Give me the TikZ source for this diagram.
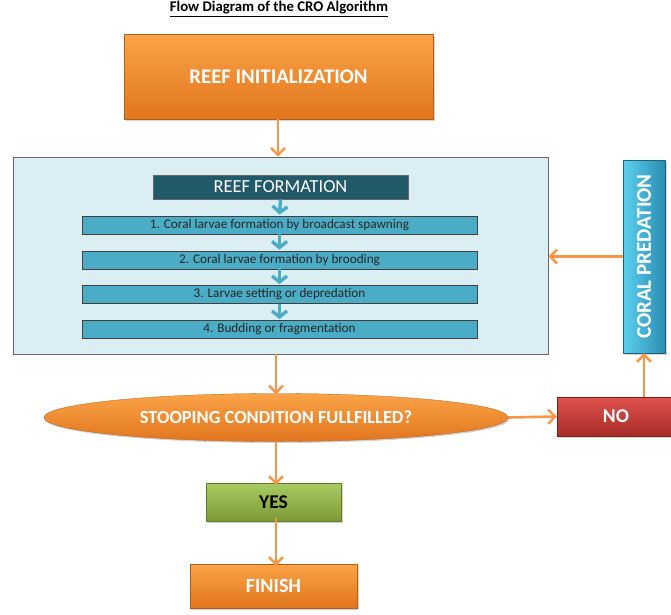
\documentclass[tikz,border=0pt]{standalone}
\usepackage{fontspec}
\setmainfont{Carlito}
\usetikzlibrary{arrows.meta,shadows,shapes.geometric}
\definecolor{arrorange}{HTML}{F79646}
\definecolor{orangetop}{HTML}{FBA348}
\definecolor{orangebot}{HTML}{E1761D}
\definecolor{contfill}{HTML}{DBEEF4}
\definecolor{stepfill}{HTML}{4BACC6}
\definecolor{rfill}{HTML}{215968}
\definecolor{redtop}{HTML}{E0524D}
\definecolor{redbot}{HTML}{A82B28}
\definecolor{greentop}{HTML}{A9CB62}
\definecolor{greenbot}{HTML}{7B9A36}
\definecolor{cyantop}{HTML}{5CD0F0}
\definecolor{cyanbot}{HTML}{2A8DB0}
\tikzset{
  oarrow/.style={draw=arrorange,line width=2.6pt,-{Straight Barb[length=7pt,width=14pt,line width=2.4pt]}},
  barrow/.style={draw=stepfill,line width=3.4pt,-{Straight Barb[length=6pt,width=15pt,line width=3.4pt]}},
  shadowed/.style={drop shadow={opacity=0.35,shadow xshift=1.5pt,shadow yshift=-1.5pt}},
  orangebox/.style={shadowed,top color=orangetop,bottom color=orangebot,draw=orangebot!80!black,line width=0.3pt,inner sep=0pt,text=white,font=\bfseries},
  stepbox/.style={fill=stepfill,draw=black!75,line width=0.8pt,minimum width=395pt,minimum height=18pt,inner sep=0pt,font=\fontsize{13.2}{15}\selectfont,text=black!85},
}
\begin{document}
\begin{tikzpicture}[x=1pt,y=-1pt]
\useasboundingbox (0,0) rectangle (671,614);
% title
\node (title) at (279,9) {\fontsize{14.8}{16}\selectfont\bfseries\underline{Flow Diagram of the CRO Algorithm}};
% reef initialization
\node[orangebox,minimum width=309pt,minimum height=85pt,font=\fontsize{20.8}{23}\selectfont\bfseries] (init) at (278.5,76.5) {REEF INITIALIZATION};
% container
\node[draw=black!60,fill=contfill,line width=0.8pt,minimum width=535pt,minimum height=197pt,inner sep=0pt] (cont) at (280.5,255.5) {};
\node[fill=rfill,draw=black!60,line width=0.8pt,minimum width=255pt,minimum height=24pt,inner sep=0pt,text=white,font=\fontsize{18.4}{20}\selectfont] (rf) at (280.5,187) {REEF FORMATION};
\node[stepbox] (s1) at (279.5,225) {1. Coral larvae formation by broadcast spawning};
\node[stepbox] (s2) at (279.5,260) {2. Coral larvae formation by brooding};
\node[stepbox] (s3) at (279.5,294.5) {3. Larvae setting or depredation};
\node[stepbox] (s4) at (279.5,329.5) {4. Budding or fragmentation};
\draw[barrow] (rf.south) -- ([yshift=1pt]s1.north);
\draw[barrow] (s1.south) -- ([yshift=1pt]s2.north);
\draw[barrow] (s2.south) -- ([yshift=1pt]s3.north);
\draw[barrow] (s3.south) -- ([yshift=1pt]s4.north);
% coral predation
\node[shadowed,left color=cyantop,right color=cyanbot,draw=cyanbot!70!black,line width=0.3pt,minimum width=42pt,minimum height=193pt,inner sep=0pt] (cp) at (644,256.5) {};
\node[rotate=90,text=white,font=\fontsize{21}{23}\selectfont\bfseries] (cpt) at (cp.center) {CORAL PREDATION};
% ellipse
\node[ellipse,shadowed,top color=orangetop,bottom color=orangebot,draw=orangebot!80!black,line width=0.3pt,minimum width=464pt,minimum height=48pt,inner sep=0pt,text=white,font=\fontsize{18.4}{20}\selectfont\bfseries] (cond) at (276,417.5) {STOOPING CONDITION FULLFILLED?};
% no
\node[shadowed,top color=redtop,bottom color=redbot,draw=redbot!70!black,line width=0.3pt,minimum width=118pt,minimum height=39pt,inner sep=0pt,text=white,font=\fontsize{19.5}{21}\selectfont\bfseries] (no) at (616,416.5) {NO};
% yes
\node[shadowed,top color=greentop,bottom color=greenbot,draw=greenbot!80!black,line width=0.3pt,minimum width=135pt,minimum height=38pt,inner sep=0pt,text=black,font=\fontsize{19.5}{21}\selectfont\bfseries] (yes) at (273.5,502) {YES};
% finish
\node[orangebox,minimum width=167pt,minimum height=44pt,font=\fontsize{20}{22}\selectfont\bfseries] (fin) at (273.5,586) {FINISH};
% arrows
\draw[oarrow] (init.south -| 278,0) -- (cont.north -| 278,0);
\draw[oarrow] (cont.south -| 276,0) -- ([yshift=-1pt]cond.north);
\draw[oarrow] (cond.east) -- (no.west);
\draw[oarrow] (no.north -| 644,0) -- (cp.south);
\draw[oarrow] (cp.west) -- (cont.east |- cp.west);
\draw[oarrow] (cond.south) -- ([yshift=-2pt]yes.north -| cond.south);
\draw[oarrow] ([yshift=3pt]yes.south -| cond.south) -- ([yshift=-2pt]fin.north -| cond.south);
\end{tikzpicture}
\end{document}
